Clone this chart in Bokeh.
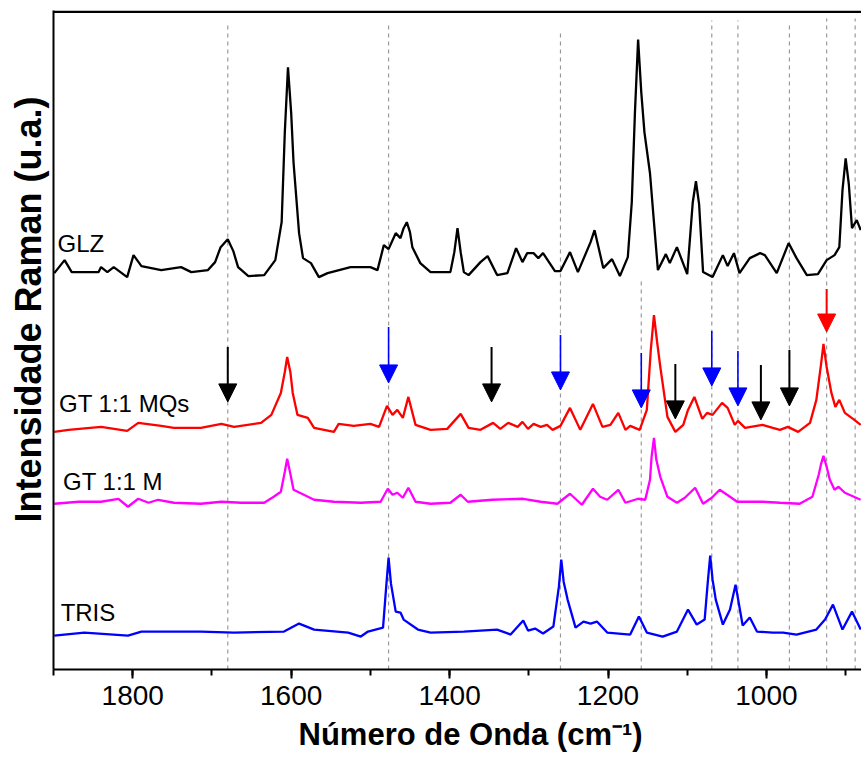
from bokeh.plotting import figure
from bokeh.models import Range1d, Arrow, NormalHead, SingleIntervalTicker, FixedTicker, Title, BoxAnnotation
from bokeh.core.properties import value
from bokeh.embed import file_html
from bokeh.resources import INLINE

# ---------------- data (wavenumber, offset intensity in a.u.) ----------------
glz_x = [1899,1886,1877,1843,1840,1832,1824,1807,1799,1789,1764,1739,1726,1705,1696,1689,1680,1673,1667,1654,1634,1620,1612,1608,1604,1600,1597,1590,1585,1575,1565,1554,1525,1500,1491,1483,1477,1468,1462,1458,1454,1450,1447,1437,1424,1399,1394,1390,1386,1382,1376,1361,1352,1340,1327,1316,1308,1302,1294,1288,1282,1267,1260,1248,1238,1222,1217,1212,1206,1195,1185,1175,1170,1166,1162,1158,1154,1147,1142,1137,1127,1122,1113,1100,1093,1089,1085,1080,1068,1055,1049,1041,1034,1021,1008,1002,987,972,962,949,935,924,914,908,904,900,896,892,886,881]
glz_y = [399,412,400,400,405,400,405,395,417,406,402,405,400,402,410,425,433,421,405,396,397,412,450,540,605,560,510,439,414,409,395,399,405,405,402,427,423,439,434,444,450,440,425,409,400,400,420,444,420,400,397,410,416,397,399,424,410,419,419,414,419,401,401,420,400,430,442,425,404,413,396,415,470,560,633,580,540,499,450,402,418,409,425,398,470,491,468,400,395,417,406,419,399,414,419,417,399,429,414,397,398,412,417,425,482,514,488,444,452,442]

mqs_x = [1899,1881,1840,1807,1793,1764,1748,1714,1688,1672,1638,1625,1613,1608,1605,1601,1598,1592,1579,1571,1546,1540,1521,1500,1489,1479,1472,1466,1459,1452,1443,1424,1403,1386,1376,1361,1345,1336,1326,1314,1308,1301,1294,1285,1277,1270,1260,1248,1235,1219,1207,1197,1187,1178,1172,1160,1151,1146,1142,1138,1134,1125,1115,1105,1099,1091,1081,1075,1068,1056,1049,1040,1036,1027,1005,992,983,973,960,945,937,931,928,924,918,913,908,901,889,881]
mqs_y = [240,242,245,241,249,246,244,244,248,245,249,257,279,300,315,300,279,257,254,244,240,248,246,248,245,266,257,262,254,275,247,242,243,258,244,242,249,243,249,245,250,243,248,245,247,242,246,264,242,268,245,247,259,242,246,242,262,322,357,330,305,255,240,247,262,275,253,259,257,269,264,247,251,244,247,244,242,245,240,249,272,308,328,305,279,265,272,259,252,247]

m_x = [1899,1868,1840,1818,1806,1793,1780,1768,1748,1714,1688,1663,1634,1622,1613,1608,1605,1601,1597,1584,1571,1546,1512,1487,1478,1472,1466,1459,1452,1443,1424,1399,1386,1377,1346,1307,1285,1264,1248,1233,1219,1210,1201,1187,1178,1162,1153,1147,1145,1142,1139,1134,1125,1113,1103,1090,1080,1069,1059,1046,1037,1005,983,958,942,934,931,928,924,920,914,909,901,881]
m_y = [168,170,170,173,165,173,169,172,169,168,170,169,169,175,180,200,213,198,182,177,172,170,169,170,183,177,179,174,184,170,168,169,177,170,172,173,170,168,178,167,183,175,172,182,169,173,172,192,215,234,212,195,175,169,174,184,168,174,182,175,170,170,169,168,175,197,208,216,205,192,182,185,179,172]

tris_x = [1899,1861,1806,1789,1714,1672,1609,1590,1571,1528,1512,1503,1484,1480,1477,1474,1468,1462,1458,1440,1424,1382,1340,1323,1307,1301,1292,1282,1269,1262,1259,1256,1251,1241,1231,1222,1214,1201,1172,1161,1151,1131,1113,1099,1088,1078,1074,1071,1068,1064,1055,1046,1039,1030,1021,1012,992,979,962,937,926,916,904,892,881]
tris_y = [36,39,36,40,40,39,40,48,42,39,35,40,44,85,114,88,60,59,52,42,39,40,42,37,51,41,43,38,45,85,112,90,72,44,50,48,50,39,37,55,39,35,40,62,47,52,90,116,92,72,47,62,87,46,54,40,39,39,37,42,52,67,42,60,42]

series_names = ["GLZ", "GT 1:1 MQs", "GT 1:1 M", "TRIS"]
series_colors = ["#000000", "#FF0000", "#FF00FF", "#0000FF"]
label_x = [1895, 1893, 1888, 1891]
label_y = [429, 268, 190, 59]

dash_x = [1680, 1477, 1260, 1158, 1069, 1036, 971, 924, 888]
dash_top = [648, 650, 639, 392, 652, 652, 650, 654, 654]

arrow_x = [1680, 1477, 1347, 1260, 1158, 1115, 1069, 1036, 1007, 971, 924]
arrow_top = [325, 345, 325, 337, 319, 308, 341, 321, 307, 322, 383]
arrow_tip = [270, 289, 270, 282, 264, 253, 286, 266, 252, 266, 340]
arrow_color = ["#000000", "#0000FF", "#000000", "#0000FF", "#0000FF", "#000000",
               "#0000FF", "#0000FF", "#000000", "#000000", "#FF0000"]

x_ticks_interval = 200

# ---------------- figure ----------------
p = figure(width=861, height=758, output_backend="svg", toolbar_location=None,
           x_range=Range1d(1900, 880), y_range=Range1d(2, 662),
           min_border_left=53, min_border_right=0, min_border_top=10, min_border_bottom=88)
p.background_fill_color = "white"
p.border_fill_color = "white"
p.outline_line_color = None
p.grid.visible = False

xa = p.below[0]
ya = p.left[0]

# top border of the frame: a thin filled band just under the frame top
p.add_layout(BoxAnnotation(bottom=659.5, top=662, fill_color="black", fill_alpha=1.0,
                           line_color=None, level="overlay"))

# dashed reference lines
p.segment(x0=dash_x, y0=[2] * len(dash_x), x1=dash_x, y1=dash_top,
          line_color="#9a9a9a", line_width=1.2, line_dash="4 4")

# spectra
for xs, ys, c in zip([glz_x, mqs_x, m_x, tris_x], [glz_y, mqs_y, m_y, tris_y], series_colors):
    p.line(xs, ys, line_color=c, line_width=2.3)

# series labels
p.text(x=label_x, y=label_y, text=series_names, text_font=value("Liberation Sans"),
       text_font_size="24px", text_baseline="alphabetic", text_align="left", text_color="#000000")

# arrows
for ax, at, ap, ac in zip(arrow_x, arrow_top, arrow_tip, arrow_color):
    p.add_layout(Arrow(end=NormalHead(size=18, fill_color=ac, line_color=ac, line_width=1),
                       x_start=ax, y_start=at, x_end=ax, y_end=ap,
                       line_color=ac, line_width=2 if ac != "#0000FF" else 1.6))

# x axis (bottom)
xa.ticker = SingleIntervalTicker(interval=x_ticks_interval, num_minor_ticks=2)
xa.axis_line_width = 2
xa.major_tick_line_width = 2
xa.minor_tick_line_width = 2
xa.major_tick_in = 0
xa.major_tick_out = 9
xa.minor_tick_in = 0
xa.minor_tick_out = 6
xa.major_label_text_font = "Liberation Sans"
xa.major_label_text_font_size = "28px"
xa.major_label_text_color = "black"
xa.major_label_standoff = 7

# y axis (left)
ya.ticker = FixedTicker(ticks=[])
ya.axis_line_width = 2
ya.major_tick_line_color = None
ya.minor_tick_line_color = None

p.add_layout(Title(text="Número de Onda (cm⁻¹)", align="left", offset=245, standoff=14,
                   text_font="Liberation Sans", text_font_style="bold",
                   text_font_size="31px", text_color="black"), "below")

p.add_layout(Title(text="Intensidade Raman (u.a.)", align="left", offset=147, standoff=10,
                   text_font="Liberation Sans", text_font_style="bold",
                   text_font_size="36px", text_color="black"), "left")

open("out.html", "w").write(file_html(p, INLINE))
